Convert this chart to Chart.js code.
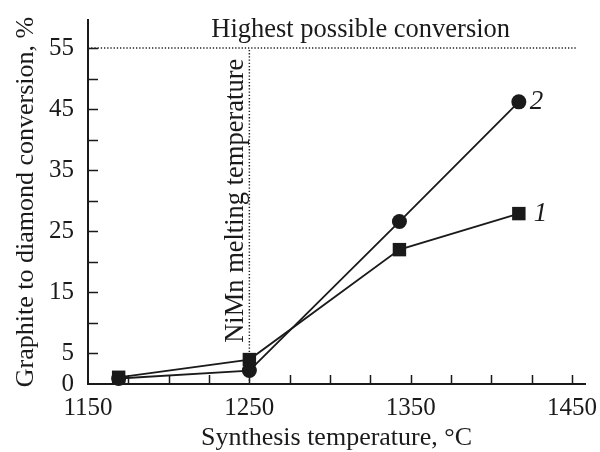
<!DOCTYPE html>
<html>
<head>
<meta charset="utf-8">
<script src="https://cdn.jsdelivr.net/npm/chart.js@4/dist/chart.umd.min.js"></script>
<style>
  html, body { margin: 0; padding: 0; background: #fff; }
  canvas { display: block; }
</style>
</head>
<body>
<canvas id="chart" width="600" height="452"></canvas>
<script>
  // synthesis temperature, deg C
  const temps = [1169, 1250, 1343, 1417];
  // graphite to diamond conversion, %
  const conv1 = [1.1, 4.0, 22.0, 27.9];
  const conv2 = [0.9, 2.2, 26.6, 46.2];
  const seriesNames = ['1', '2'];

  const xLabeled = [1150, 1250, 1350, 1450];
  const yLabeled = [0, 5, 15, 25, 35, 45, 55];

  const highestConversion = 55;
  const meltingTemp = 1250;

  const ink = '#1a1a1a';
  const serif = '"Liberation Serif", "Times New Roman", serif';

  function pts(xs, ys) {
    return xs.map((x, i) => ({ x, y: ys[i] }));
  }

  // inward tick marks on both axes
  const innerTicks = {
    id: 'innerTicks',
    beforeDatasetsDraw(chart) {
      const { ctx, chartArea, scales: { x, y } } = chart;
      ctx.save();
      ctx.strokeStyle = ink;
      ctx.lineWidth = 1.5;
      ctx.beginPath();
      x.ticks.forEach(t => {
        if (t.value === x.min) return;
        const px = Math.round(x.getPixelForValue(t.value)) + 0.5;
        ctx.moveTo(px, chartArea.bottom);
        ctx.lineTo(px, chartArea.bottom - 9);
      });
      y.ticks.forEach(t => {
        if (t.value === y.min) return;
        const py = Math.round(y.getPixelForValue(t.value)) + 0.5;
        ctx.moveTo(chartArea.left, py);
        ctx.lineTo(chartArea.left + 10, py);
      });
      ctx.stroke();
      ctx.restore();
    }
  };

  const annotations = {
    id: 'annotations',
    afterDatasetsDraw(chart) {
      const { ctx, scales: { x, y } } = chart;
      ctx.save();
      ctx.fillStyle = ink;
      ctx.font = '26.5px ' + serif;
      ctx.textAlign = 'center';
      ctx.textBaseline = 'alphabetic';
      ctx.fillText('Highest possible conversion', x.getPixelForValue(1319), y.getPixelForValue(highestConversion) - 11);

      ctx.save();
      ctx.translate(x.getPixelForValue(meltingTemp) - 6, y.getPixelForValue(30));
      ctx.rotate(-Math.PI / 2);
      ctx.fillText('NiMn melting temperature', 0, 0);
      ctx.restore();

      // curve numbers next to last points
      ctx.font = 'italic 27px ' + serif;
      ctx.textAlign = 'left';
      ctx.textBaseline = 'middle';
      const offsets = [15, 11];
      seriesNames.forEach((name, i) => {
        const els = chart.getDatasetMeta(i).data;
        const last = els[els.length - 1];
        ctx.fillText(name, last.x + offsets[i], last.y);
      });
      ctx.restore();
    }
  };

  new Chart(document.getElementById('chart'), {
    type: 'line',
    data: {
      datasets: [
        {
          label: seriesNames[0],
          data: pts(temps, conv1),
          borderColor: ink,
          backgroundColor: ink,
          borderWidth: 1.8,
          pointStyle: 'rect',
          pointRadius: 9.5,
          pointBorderWidth: 0,
          clip: false
        },
        {
          label: seriesNames[1],
          data: pts(temps, conv2),
          borderColor: ink,
          backgroundColor: ink,
          borderWidth: 1.8,
          pointStyle: 'circle',
          pointRadius: 7.5,
          pointBorderWidth: 0,
          clip: false
        },
        {
          label: 'highest',
          data: [{ x: 1150, y: highestConversion }, { x: 1453, y: highestConversion }],
          borderColor: '#222',
          borderWidth: 1.5,
          borderDash: [1.3, 1.9],
          pointRadius: 0
        },
        {
          label: 'melting',
          data: [{ x: meltingTemp, y: 0 }, { x: meltingTemp, y: highestConversion }],
          borderColor: '#222',
          borderWidth: 1.5,
          borderDash: [1.3, 1.9],
          pointRadius: 0
        }
      ]
    },
    options: {
      responsive: false,
      animation: false,
      events: [],
      layout: { padding: { left: 0, top: 20, right: 15, bottom: 0 } },
      plugins: { legend: { display: false }, tooltip: { enabled: false } },
      scales: {
        x: {
          type: 'linear',
          min: 1150,
          max: 1458,
          grid: { drawOnChartArea: false, drawTicks: false },
          border: { display: true, color: ink, width: 2 },
          ticks: {
            stepSize: 25,
            includeBounds: false,
            autoSkip: false,
            maxRotation: 0,
            padding: 9,
            color: ink,
            font: { family: serif, size: 25 },
            callback: v => xLabeled.includes(v) ? String(v) : ''
          },
          title: {
            display: true,
            text: 'Synthesis temperature, °C',
            color: ink,
            font: { family: serif, size: 26, lineHeight: 1 },
            padding: { top: 0, bottom: 1 }
          },
          afterFit: s => {
            s.height = 68;
            s.paddingLeft = 0;
            s.paddingRight = 0;
          }
        },
        y: {
          type: 'linear',
          min: 0,
          max: 59.6,
          grid: { drawOnChartArea: false, drawTicks: false },
          border: { display: true, color: ink, width: 2 },
          ticks: {
            stepSize: 5,
            includeBounds: false,
            autoSkip: false,
            padding: 14,
            color: ink,
            font: { family: serif, size: 25 },
            callback: v => yLabeled.includes(v) ? String(v) : ''
          },
          title: {
            display: true,
            text: 'Graphite to diamond conversion, %',
            color: ink,
            font: { family: serif, size: 26, lineHeight: 1 },
            padding: { top: 13, bottom: 0 }
          },
          afterFit: s => {
            s.width = 88;
            s.paddingTop = 0;
            s.paddingBottom = 0;
          }
        }
      }
    },
    plugins: [innerTicks, annotations]
  });
</script>
</body>
</html>
